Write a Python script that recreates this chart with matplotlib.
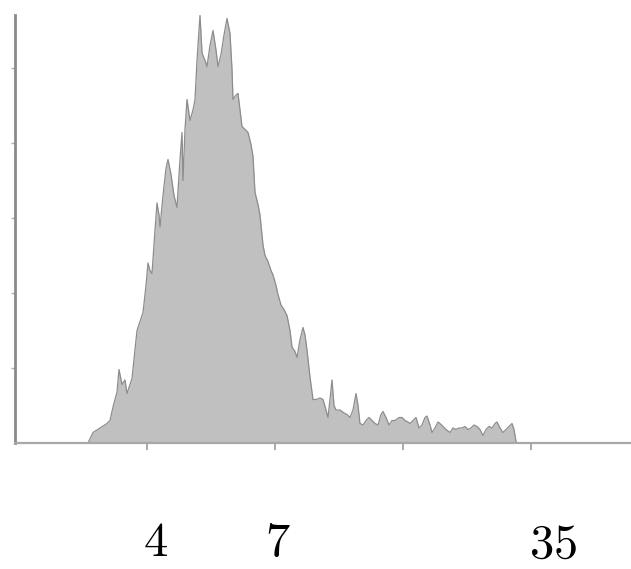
import matplotlib
matplotlib.use("Agg")
import matplotlib.pyplot as plt

# ==== data ====
# channel positions of the histogram outline and the counts there
channel = [
    138, 148, 162, 176, 182, 188, 196, 200, 206, 212, 216, 222, 226, 232, 236, 242,
    248, 254, 258, 262, 266, 272, 276, 280, 282, 288, 294, 298, 304, 310, 316, 322,
    326, 328, 332, 336, 342, 348, 352, 356, 362, 366, 372, 376, 382, 388, 394, 398,
    404, 410, 416, 422, 426, 428, 434, 438, 442, 446, 452, 458, 464, 468, 472, 478,
    482, 488, 492, 498, 504, 508, 514, 518, 524, 530, 536, 542, 546, 552, 556, 562,
    568, 572, 576, 582, 588, 594, 602, 608, 614, 618, 622, 626, 630, 634, 642, 650,
    656, 662, 668, 674, 678, 682, 688, 694, 700, 706, 712, 718, 724, 728, 734, 740,
    746, 752, 760, 766, 772, 778, 782, 788, 794, 800, 806, 812, 816, 822, 826, 832,
    838, 842, 848, 854, 862, 868, 874, 880, 886, 892, 898, 904, 910, 916, 922, 928,
    934, 940, 946, 952, 956, 962, 968, 974, 980, 986, 990, 994, 996,
]
counts = [
    0, 7, 10, 13, 15, 24, 34, 49, 39, 42, 33, 39, 43, 62, 75, 81,
    87, 105, 120, 115, 113, 142, 160, 152, 144, 165, 183, 189, 179, 165, 157, 189,
    207, 175, 209, 229, 215, 222, 229, 255, 285, 260, 255, 251, 265, 275, 262, 251,
    259, 272, 283, 273, 249, 229, 232, 233, 222, 211, 209, 207, 199, 191, 167, 159,
    152, 132, 125, 121, 115, 112, 105, 99, 92, 89, 85, 75, 64, 61, 57, 69,
    77, 72, 62, 44, 29, 29, 30, 29, 22, 17, 29, 42, 25, 22, 22, 20,
    19, 17, 22, 33, 25, 13, 12, 15, 17, 15, 13, 12, 19, 21, 17, 12,
    15, 15, 17, 17, 15, 14, 13, 15, 17, 10, 12, 17, 18, 12, 7, 10,
    14, 13, 11, 9, 7, 10, 9, 10, 10, 11, 9, 10, 12, 11, 9, 5,
    9, 11, 10, 13, 14, 10, 7, 9, 11, 13, 9, 1, 0,
]

x_ticks = [256, 512, 768, 1024]
y_ticks = [50, 100, 150, 200, 250]
labels = ["4", "7", "35"]
label_px = [155, 278, 553]     # horizontal centres of the labels, pixels
label_base = [556, 556, 558]   # baselines of the labels, pixels

W, H = 631, 569
plt.rcParams["mathtext.fontset"] = "cm"

fig = plt.figure(figsize=(W / 100, H / 100), dpi=100)
ax = fig.add_axes([15 / W, 1 - 443 / H, 1 - 15 / W, 428 / H])

ax.fill_between(channel, counts, 0, color="#c0c0c0", linewidth=0)
ax.plot(channel, counts, color="#8c8c8c", linewidth=0.9)

ax.set_xlim(-8, 1224)
ax.set_ylim(0, 285.3)

for s in ["top", "right"]:
    ax.spines[s].set_visible(False)
ax.spines["left"].set_color("#8a8a8a")
ax.spines["left"].set_linewidth(2)
ax.spines["bottom"].set_color("#a8a8a8")
ax.spines["bottom"].set_linewidth(1.6)

ax.set_xticks(x_ticks)
ax.set_yticks(y_ticks)
ax.tick_params(axis="x", direction="out", length=5, width=1.2, color="#9a9a9a",
               labelbottom=False)
ax.tick_params(axis="y", direction="out", length=3, width=1, color="#b0b0b0",
               labelleft=False)

for lab, px, py in zip(labels, label_px, label_base):
    fig.text(px / W, 1 - py / H, "$" + lab + "$", ha="center", va="baseline",
             fontsize=35, color="black")

fig.savefig("out.png", dpi=100)
